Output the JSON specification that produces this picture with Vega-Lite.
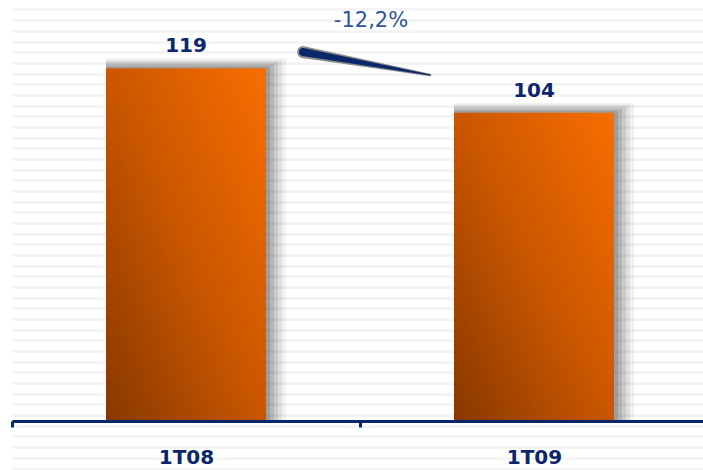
{
  "$schema": "https://vega.github.io/schema/vega-lite/v6.json",
  "width": 703,
  "height": 470,
  "autosize": {"type": "none"},
  "padding": 0,
  "background": "white",
  "config": {"view": {"stroke": null}, "font": "DejaVu Sans"},
  "data": {"values": [
    {"period": "1T08", "value": 119},
    {"period": "1T09", "value": 104, "change": "-12,2%"}
  ]},
  "layer": [
    {
      "encoding": {
        "x": {"field": "period", "type": "nominal",
          "scale": {"range": [12, 708], "paddingInner": 0, "paddingOuter": 0},
          "axis": {"title": null, "orient": "bottom", "offset": -49, "zindex": 1,
            "domainColor": "#0c2769", "domainWidth": 3, "tickBand": "extent",
            "tickColor": "#0c2769", "tickWidth": 3, "tickSize": 6,
            "labelFont": "DejaVu Sans", "labelFontWeight": "bold", "labelFontSize": 20,
            "labelColor": "#0c2769", "labelPadding": 20, "labelAngle": 0}},
        "y": {"field": "value", "type": "quantitative",
          "scale": {"domain": [-16.5, 142], "nice": false, "zero": false},
          "axis": {"title": null, "grid": true, "domain": false, "ticks": false, "labels": false,
            "gridColor": "#f4f4f4", "gridWidth": 3,
            "values": [-16, -12.4, -8.8, -5.2, -1.6, 2, 5.6, 9.2, 12.8, 16.4, 20, 23.6, 27.2, 30.8, 34.4, 38, 41.6, 45.2, 48.8, 52.4, 56, 59.6, 63.2, 66.8, 70.4, 74, 77.6, 81.2, 84.8, 88.4, 92, 95.6, 99.2, 102.8, 106.4, 110, 113.6, 117.2, 120.8, 124.4, 128, 131.6, 135.2, 138.8]}}
      },
      "layer": [
        {"mark": {"type": "bar", "color": "#000000", "opacity": 0.05, "size": 180, "xOffset": 10, "yOffset": -10},
          "encoding": {"y2": {"datum": 0}}},
        {"mark": {"type": "bar", "color": "#000000", "opacity": 0.07, "size": 176, "xOffset": 8, "yOffset": -8},
          "encoding": {"y2": {"datum": 0}}},
        {"mark": {"type": "bar", "color": "#000000", "opacity": 0.09, "size": 172, "xOffset": 6, "yOffset": -6},
          "encoding": {"y2": {"datum": 0}}},
        {"mark": {"type": "bar", "color": "#000000", "opacity": 0.1, "size": 168, "xOffset": 4, "yOffset": -4},
          "encoding": {"y2": {"datum": 0}}},
        {"mark": {"type": "bar", "color": "#000000", "opacity": 0.12, "size": 164, "xOffset": 2, "yOffset": -2},
          "encoding": {"y2": {"datum": 0}}},
        {"mark": {"type": "bar", "size": 160,
          "color": {"gradient": "linear", "x1": 0, "y1": 1, "x2": 1, "y2": 0,
            "stops": [
              {"offset": 0, "color": "#873800"},
              {"offset": 0.5, "color": "#ca5600"},
              {"offset": 1, "color": "#f86e00"}
            ]}}},
        {"mark": {"type": "text", "font": "DejaVu Sans", "fontWeight": "bold", "fontSize": 20,
          "color": "#0c2769", "baseline": "alphabetic", "dy": -16},
          "encoding": {"text": {"field": "value", "type": "quantitative"}}},
        {"transform": [{"filter": "isValid(datum.change)"}],
          "mark": {"type": "text", "font": "DejaVu Sans", "fontSize": 21, "color": "#2f5597",
            "baseline": "middle", "dx": 11},
          "encoding": {
            "x": {"field": "period", "type": "nominal", "bandPosition": 0},
            "y": {"datum": 135},
            "text": {"field": "change", "type": "nominal"}}}
      ]
    },
    {
      "encoding": {
        "x": {"field": "value", "type": "quantitative",
          "scale": {"domain": [71.76, 154.8], "reverse": true, "nice": false, "zero": false}, "axis": null},
        "y": {"field": "value", "type": "quantitative",
          "scale": {"domain": [-154, 153], "nice": false, "zero": false}, "axis": null}
      },
      "layer": [
        {"mark": {"type": "trail", "color": "#8c8c8c"},
          "encoding": {"size": {"field": "value", "type": "quantitative",
            "scale": {"domain": [104, 119], "range": [2.5, 12]}, "legend": null}}},
        {"mark": {"type": "trail", "color": "#0c2769"},
          "encoding": {"size": {"field": "value", "type": "quantitative",
            "scale": {"domain": [107.5, 119], "range": [0, 8], "clamp": true}, "legend": null}}}
      ],
      "resolve": {"scale": {"size": "independent"}}
    }
  ],
  "resolve": {"scale": {"x": "independent", "y": "independent"}, "axis": {"x": "independent", "y": "independent"}}
}
